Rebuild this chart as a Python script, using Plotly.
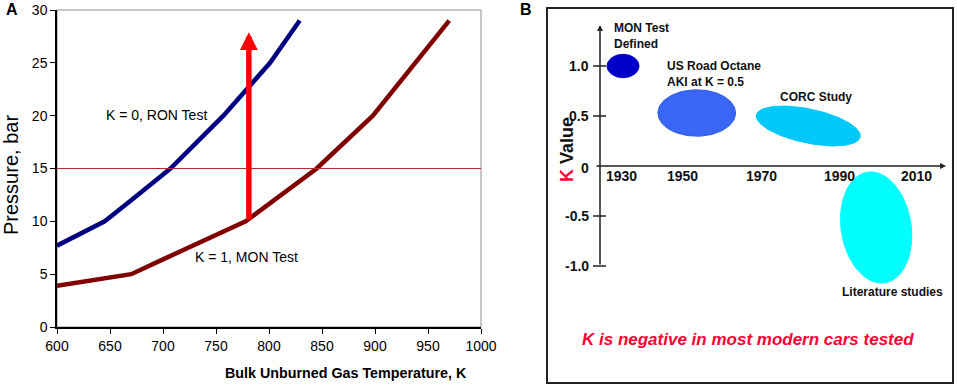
import math
import plotly.graph_objects as go

W, H = 957, 386
FONT = "Liberation Sans, Arial, sans-serif"

# ---------------- Panel A data ----------------
ron_temp = [600, 645, 670, 707, 757, 801, 829]
ron_pressure = [7.7, 10.0, 12.0, 15.0, 20.0, 25.0, 29.0]
mon_temp = [600, 670, 700, 778, 845, 898, 970]
mon_pressure = [3.9, 5.0, 6.4, 10.0, 15.0, 20.0, 29.0]
ref_pressure = 15
arrow_temp = 781
arrow_pressure = [10.0, 27.9]
xticks_a = [600, 650, 700, 750, 800, 850, 900, 950, 1000]
yticks_a = [0, 5, 10, 15, 20, 25, 30]

# ---------------- Panel B data ----------------
era_labels = ["MON Test<br>Defined", "US Road Octane<br>AKI at K = 0.5", "CORC Study", "Literature studies"]
era_year = [1934.5, 1953.4, 1982.0, 1999.4]
era_k = [1.0, 0.53, 0.40, -0.615]
era_year_spread = [4.1, 9.95, 13.6, 8.97]
era_k_spread = [0.117, 0.232, 0.17, 0.56]
era_tilt_deg = [0, 0, -12, 9]
era_colors = ["#0000c8", "#3a66f5", "#00c8f8", "#00ffff"]
year_tick_labels = ["1930", "1950", "1970", "1990", "2010"]
year_tick_pos = [1934.2, 1949.8, 1970.0, 1990.1, 2009.8]
k_ticks = [1.0, 0.5, 0, -0.5, -1.0]
k_tick_labels = ["1.0", "0.5", "0", "-0.5", "-1.0"]

# ---------------- layout geometry (pixels) ----------------
A_left, A_right, A_top, A_bot = 57, 481, 10, 327
B_left, B_right, B_top, B_bot = 548, 952, 9, 382
B_xrange = [1915.26, 2018.85]
B_yrange = [-2.16, 1.57]
px_per_year = (B_right - B_left) / (B_xrange[1] - B_xrange[0])
px_per_k = (B_bot - B_top) / (B_yrange[1] - B_yrange[0])

def px(v):
    return v / W

def py(v):
    return 1 - v / H

fig = go.Figure()

# Panel A traces
fig.add_trace(go.Scatter(x=ron_temp, y=ron_pressure, mode="lines",
                         line=dict(color="#000080", width=4.5), xaxis="x", yaxis="y",
                         showlegend=False, hoverinfo="skip"))
fig.add_trace(go.Scatter(x=mon_temp, y=mon_pressure, mode="lines",
                         line=dict(color="#800000", width=4.5), xaxis="x", yaxis="y",
                         showlegend=False, hoverinfo="skip"))
fig.add_trace(go.Scatter(x=[xticks_a[0], xticks_a[-1]], y=[ref_pressure, ref_pressure], mode="lines",
                         line=dict(color="#b8282c", width=1.2), xaxis="x", yaxis="y",
                         showlegend=False, hoverinfo="skip"))

# Panel B ellipses
for i in range(len(era_year)):
    a = era_year_spread[i] * px_per_year
    b = era_k_spread[i] * px_per_k
    th = math.radians(era_tilt_deg[i])
    xs, ys = [], []
    for j in range(121):
        t = 2 * math.pi * j / 120
        ex, ey = a * math.cos(t), b * math.sin(t)
        rx = ex * math.cos(th) - ey * math.sin(th)
        ry = ex * math.sin(th) + ey * math.cos(th)
        xs.append(era_year[i] + rx / px_per_year)
        ys.append(era_k[i] + ry / px_per_k)
    fig.add_trace(go.Scatter(x=xs, y=ys, mode="lines", fill="toself", fillcolor=era_colors[i],
                             line=dict(color=("#2b58e0" if i == 1 else era_colors[i]), width=1),
                             xaxis="x2", yaxis="y2", showlegend=False, hoverinfo="skip"))

annotations = []
shapes = []

# Panel A frame (grey top/right)
shapes.append(dict(type="rect", xref="x domain", yref="y domain", x0=0, x1=1, y0=0, y1=1,
                   line=dict(color="#8c8c8c", width=1), layer="below"))

# Red arrow
annotations.append(dict(x=arrow_temp, y=arrow_pressure[1], ax=arrow_temp, ay=arrow_pressure[0],
                        xref="x", yref="y", axref="x", ayref="y", showarrow=True, text="",
                        arrowcolor="#ff0000", arrowwidth=5.5, arrowhead=2, arrowsize=0.65))
annotations.append(dict(x=693.5, y=20.05, xref="x", yref="y", text="K = 0, RON Test", showarrow=False,
                        xanchor="center", font=dict(family=FONT, size=14, color="#000")))
annotations.append(dict(x=778.4, y=6.63, xref="x", yref="y", text="K = 1, MON Test", showarrow=False,
                        xanchor="center", font=dict(family=FONT, size=14, color="#000")))
annotations.append(dict(x=px(11), y=py(175), xref="paper", yref="paper", text="Pressure, bar",
                        xanchor="center", yanchor="middle",
                        textangle=-90, showarrow=False, font=dict(family=FONT, size=20, color="#000")))
annotations.append(dict(x=px(346), y=py(373), xref="paper", yref="paper",
                        text="<b>Bulk Unburned Gas Temperature, K</b>", showarrow=False,
                        xanchor="center", yanchor="middle",
                        font=dict(family=FONT, size=14.3, color="#000")))
annotations.append(dict(x=px(12), y=py(10), xref="paper", yref="paper", text="<b>A</b>",
                        xanchor="center", yanchor="middle",
                        showarrow=False, font=dict(family=FONT, size=16, color="#000")))
annotations.append(dict(x=px(526), y=py(10), xref="paper", yref="paper", text="<b>B</b>",
                        xanchor="center", yanchor="middle",
                        showarrow=False, font=dict(family=FONT, size=16, color="#000")))

# Panel B custom axes
def yr(pxv):
    return B_xrange[0] + (pxv - B_left) / px_per_year

def kv(pyv):
    return B_yrange[1] - (pyv - B_top) / px_per_k

vx = yr(600)
annotations.append(dict(x=vx, y=kv(25), ax=vx, ay=-1.0, xref="x2", yref="y2", axref="x2", ayref="y2",
                        showarrow=True, text="", arrowcolor="#222", arrowwidth=1.5, arrowhead=2, arrowsize=0.8))
annotations.append(dict(x=yr(946), y=0, ax=yr(595), ay=0, xref="x2", yref="y2", axref="x2", ayref="y2",
                        showarrow=True, text="", arrowcolor="#222", arrowwidth=1.5, arrowhead=2, arrowsize=0.8))
for kt, lab in zip(k_ticks, k_tick_labels):
    if kt != 0:
        shapes.append(dict(type="line", xref="x2", yref="y2", x0=yr(593), x1=yr(606), y0=kt, y1=kt,
                           line=dict(color="#222", width=1.5)))
    annotations.append(dict(x=yr(591), y=kt, xref="x2", yref="y2", text="<b>%s</b>" % lab, showarrow=False,
                            xanchor="right", yshift=(-2 if kt == 0 else 0),
                            font=dict(family=FONT, size=14, color="#111")))
for pos, lab in zip(year_tick_pos, year_tick_labels):
    annotations.append(dict(x=pos, y=kv(176), xref="x2", yref="y2", text="<b>%s</b>" % lab, showarrow=False,
                            xanchor="center", font=dict(family=FONT, size=14, color="#111")))

label_pos = [(612, 36, "left"), (665, 74, "left"), (778, 97, "left"), (840, 292, "left")]
for (lx, ly, anc), lab in zip(label_pos, era_labels):
    annotations.append(dict(x=yr(lx), y=kv(ly), xref="x2", yref="y2", text="<b>%s</b>" % lab, showarrow=False,
                            xanchor=anc, align="left", font=dict(family=FONT, size=12, color="#111")))

annotations.append(dict(x=px(567), y=py(150), xref="paper", yref="paper",
                        text="<b><span style='color:#ff0033'>K</span> Value</b>", textangle=-90,
                        xanchor="center", yanchor="middle",
                        showarrow=False, font=dict(family=FONT, size=18, color="#111")))
annotations.append(dict(x=px(747.5), y=py(339), xref="paper", yref="paper",
                        text="<b><i>K is negative in most modern cars tested</i></b>", showarrow=False,
                        xanchor="center", yanchor="middle",
                        font=dict(family=FONT, size=17, color="#ff0033")))

fig.update_layout(
    width=W, height=H, margin=dict(l=0, r=0, t=0, b=0),
    paper_bgcolor="white", plot_bgcolor="white",
    font=dict(family=FONT, size=14, color="#000"),
    xaxis=dict(domain=[px(A_left), px(A_right)], range=[600, 1000], tickvals=xticks_a,
               showline=True, linecolor="#000", linewidth=1.5, ticks="outside", ticklen=5,
               tickcolor="#000", showgrid=False, zeroline=False, automargin=False,
               tickfont=dict(family=FONT, size=14, color="#000"), anchor="y"),
    yaxis=dict(domain=[py(A_bot), py(A_top)], range=[0, 30], tickvals=yticks_a,
               showline=True, linecolor="#000", linewidth=1.5, ticks="outside", ticklen=5,
               tickcolor="#000", showgrid=False, zeroline=False, automargin=False,
               tickfont=dict(family=FONT, size=14, color="#000"), anchor="x"),
    xaxis2=dict(domain=[px(B_left), px(B_right)], range=B_xrange, showline=True, mirror=True,
                linecolor="#222", linewidth=2, showticklabels=False, ticks="", showgrid=False,
                zeroline=False, automargin=False, anchor="y2"),
    yaxis2=dict(domain=[py(B_bot), py(B_top)], range=B_yrange, showline=True, mirror=True,
                linecolor="#222", linewidth=2, showticklabels=False, ticks="", showgrid=False,
                zeroline=False, automargin=False, anchor="x2"),
    annotations=annotations, shapes=shapes,
)

fig.write_html("out.html", config={"displayModeBar": False},
               post_script="document.body.style.margin='0';document.body.style.overflow='hidden';")
